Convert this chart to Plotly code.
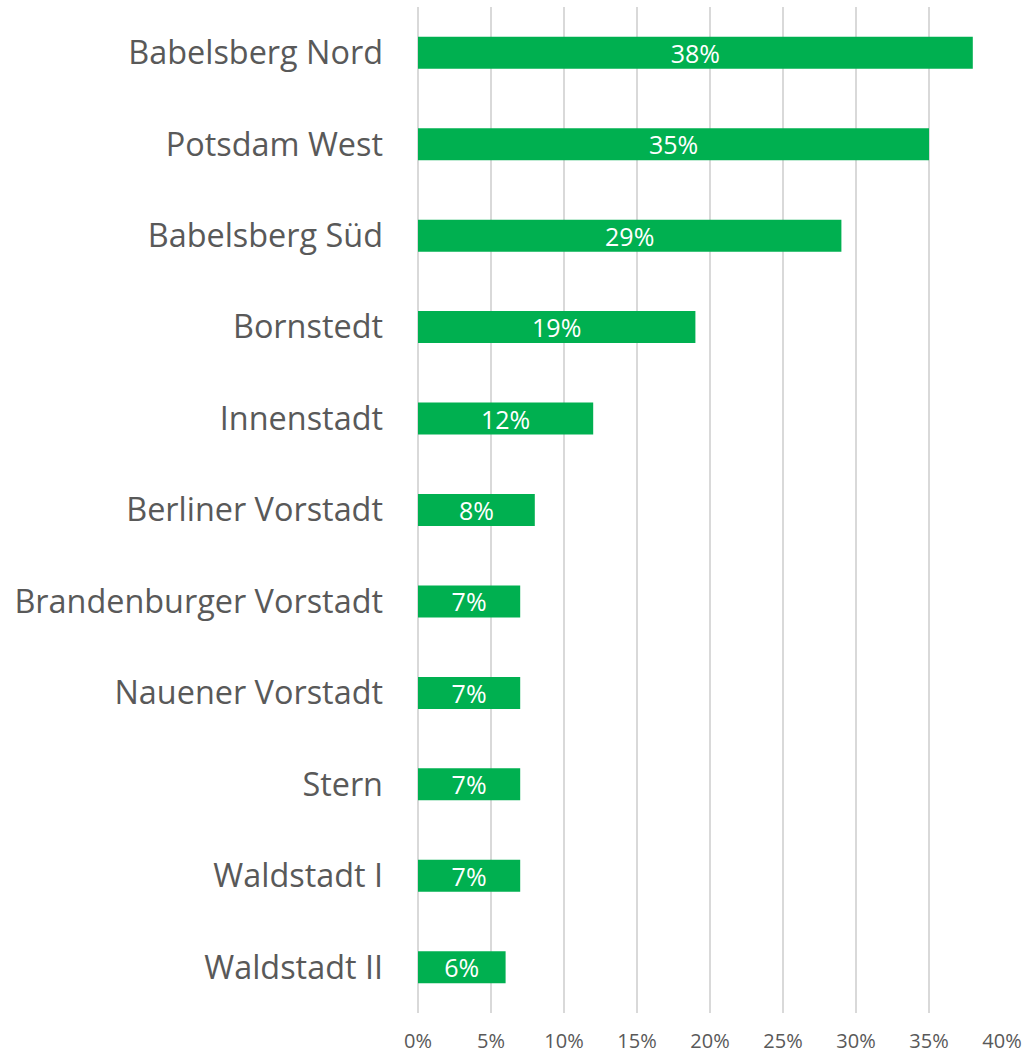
import plotly.graph_objects as go

categories = ["Babelsberg Nord", "Potsdam West", "Babelsberg Süd", "Bornstedt", "Innenstadt",
              "Berliner Vorstadt", "Brandenburger Vorstadt", "Nauener Vorstadt", "Stern",
              "Waldstadt I", "Waldstadt II"]
values = [38, 35, 29, 19, 12, 8, 7, 7, 7, 7, 6]
tick_vals = [0, 5, 10, 15, 20, 25, 30, 35, 40]
tick_text = [f"{v}%" for v in tick_vals]

fig = go.Figure(go.Bar(
    x=values, y=categories, orientation="h",
    marker=dict(color="#00B050", line=dict(width=0)),
    text=[f"{v}%" for v in values], textposition="inside", insidetextanchor="middle",
    textfont=dict(color="white", size=25, family="Open Sans"),
    textangle=0, constraintext="none",
))
fig.update_layout(
    width=1026, height=1055, paper_bgcolor="white", plot_bgcolor="white",
    margin=dict(l=418, r=24, t=7, b=42),
    bargap=0.65, showlegend=False,
    font=dict(family="Open Sans", color="#595959"),
)
fig.update_xaxes(range=[0, 40], tickvals=tick_vals, ticktext=tick_text,
                 showgrid=True, gridcolor="#D9D9D9", gridwidth=2,
                 zeroline=True, zerolinecolor="#D9D9D9", zerolinewidth=2,
                 showline=False, tickfont=dict(size=20, color="#595959"),
                 ticklabelstandoff=14, automargin=False)
fig.update_yaxes(categoryorder="array", categoryarray=categories, autorange="reversed",
                 showgrid=False, showline=False, tickfont=dict(size=32.4, color="#595959"),
                 ticklabelstandoff=34, automargin=False)
fig.write_html("out.html", post_script="document.body.style.margin='0';",
               config={"displayModeBar": False})
